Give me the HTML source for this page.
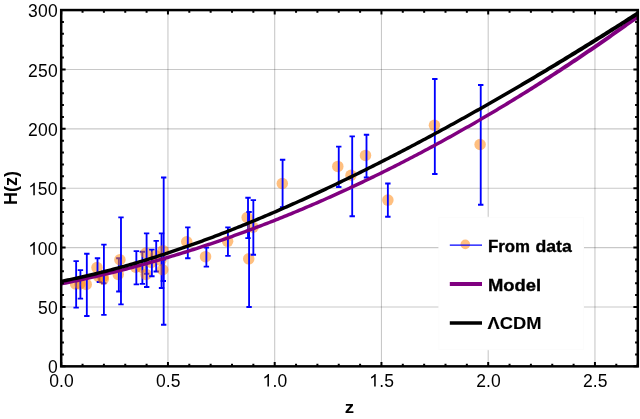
<!DOCTYPE html><html><head><meta charset="utf-8"><style>html,body{margin:0;padding:0;background:#fff}svg{display:block;will-change:transform}text{font-family:"Liberation Sans",sans-serif;fill:#000}</style></head><body>
<svg width="640" height="419" viewBox="0 0 640 419">
<rect width="640" height="419" fill="#fff"/>
<path d="M167.95,10.07 V366.35 M274.70,10.07 V366.35 M381.45,10.07 V366.35 M488.20,10.07 V366.35 M594.95,10.07 V366.35" stroke="#000" stroke-opacity="0.215" stroke-width="1.1" fill="none"/>
<path d="M61.20,306.97 H637.80 M61.20,247.59 H637.80 M61.20,188.21 H637.80 M61.20,128.83 H637.80 M61.20,69.45 H637.80" stroke="#000" stroke-opacity="0.215" stroke-width="1.1" fill="none"/>
<defs><clipPath id="c"><rect x="61.20" y="10.07" width="576.60" height="356.28"/></clipPath></defs>
<g clip-path="url(#c)">
<circle cx="75.55" cy="283.91" r="5.75" fill="#ff8000" fill-opacity="0.5"/>
<path d="M76.15,261.13 V307.68 M73.45,261.13 h5.4 M73.45,307.68 h5.4" stroke="#0000ff" stroke-width="1.85" fill="none"/>
<circle cx="79.82" cy="283.91" r="5.75" fill="#ff8000" fill-opacity="0.5"/>
<path d="M80.42,270.15 V298.66 M77.72,270.15 h5.4 M77.72,298.66 h5.4" stroke="#0000ff" stroke-width="1.85" fill="none"/>
<circle cx="86.22" cy="284.38" r="5.75" fill="#ff8000" fill-opacity="0.5"/>
<path d="M86.82,253.77 V316.00 M84.12,253.77 h5.4 M84.12,316.00 h5.4" stroke="#0000ff" stroke-width="1.85" fill="none"/>
<circle cx="97.00" cy="267.58" r="5.75" fill="#ff8000" fill-opacity="0.5"/>
<path d="M97.50,258.28 V277.28 M94.80,258.28 h5.4 M94.80,277.28 h5.4" stroke="#0000ff" stroke-width="1.85" fill="none"/>
<circle cx="98.82" cy="276.78" r="5.75" fill="#ff8000" fill-opacity="0.5"/>
<path d="M99.42,272.53 V282.03 M96.72,272.53 h5.4 M96.72,282.03 h5.4" stroke="#0000ff" stroke-width="1.85" fill="none"/>
<circle cx="103.09" cy="276.78" r="5.75" fill="#ff8000" fill-opacity="0.5"/>
<path d="M103.69,271.34 V283.22 M100.99,271.34 h5.4 M100.99,283.22 h5.4" stroke="#0000ff" stroke-width="1.85" fill="none"/>
<circle cx="103.30" cy="279.27" r="5.75" fill="#ff8000" fill-opacity="0.5"/>
<path d="M103.90,244.62 V314.93 M101.20,244.62 h5.4 M101.20,314.93 h5.4" stroke="#0000ff" stroke-width="1.85" fill="none"/>
<circle cx="118.25" cy="274.40" r="5.75" fill="#ff8000" fill-opacity="0.5"/>
<path d="M118.84,258.28 V291.53 M116.14,258.28 h5.4 M116.14,291.53 h5.4" stroke="#0000ff" stroke-width="1.85" fill="none"/>
<circle cx="119.90" cy="259.70" r="5.75" fill="#ff8000" fill-opacity="0.5"/>
<path d="M120.98,217.42 V304.36 M118.28,217.42 h5.4 M118.28,304.36 h5.4" stroke="#0000ff" stroke-width="1.85" fill="none"/>
<circle cx="135.75" cy="267.28" r="5.75" fill="#ff8000" fill-opacity="0.5"/>
<path d="M136.35,251.15 V284.41 M133.65,251.15 h5.4 M133.65,284.41 h5.4" stroke="#0000ff" stroke-width="1.85" fill="none"/>
<circle cx="141.77" cy="267.28" r="5.75" fill="#ff8000" fill-opacity="0.5"/>
<path d="M142.37,251.75 V283.81 M139.67,251.75 h5.4 M139.67,283.81 h5.4" stroke="#0000ff" stroke-width="1.85" fill="none"/>
<circle cx="146.00" cy="253.03" r="5.75" fill="#ff8000" fill-opacity="0.5"/>
<path d="M146.60,233.34 V273.72 M143.90,233.34 h5.4 M143.90,273.72 h5.4" stroke="#0000ff" stroke-width="1.85" fill="none"/>
<circle cx="146.09" cy="274.40" r="5.75" fill="#ff8000" fill-opacity="0.5"/>
<path d="M146.69,262.79 V287.02 M143.99,262.79 h5.4 M143.99,287.02 h5.4" stroke="#0000ff" stroke-width="1.85" fill="none"/>
<circle cx="151.27" cy="262.41" r="5.75" fill="#ff8000" fill-opacity="0.5"/>
<path d="M151.87,249.61 V276.21 M149.17,249.61 h5.4 M149.17,276.21 h5.4" stroke="#0000ff" stroke-width="1.85" fill="none"/>
<circle cx="155.61" cy="255.64" r="5.75" fill="#ff8000" fill-opacity="0.5"/>
<path d="M156.21,240.82 V271.46 M153.51,240.82 h5.4 M153.51,271.46 h5.4" stroke="#0000ff" stroke-width="1.85" fill="none"/>
<circle cx="160.95" cy="260.15" r="5.75" fill="#ff8000" fill-opacity="0.5"/>
<path d="M161.55,233.34 V287.97 M158.85,233.34 h5.4 M158.85,287.97 h5.4" stroke="#0000ff" stroke-width="1.85" fill="none"/>
<circle cx="162.72" cy="269.77" r="5.75" fill="#ff8000" fill-opacity="0.5"/>
<path d="M163.32,259.58 V280.96 M160.62,259.58 h5.4 M160.62,280.96 h5.4" stroke="#0000ff" stroke-width="1.85" fill="none"/>
<circle cx="163.08" cy="250.65" r="5.75" fill="#ff8000" fill-opacity="0.5"/>
<path d="M163.68,177.52 V324.78 M160.98,177.52 h5.4 M160.98,324.78 h5.4" stroke="#0000ff" stroke-width="1.85" fill="none"/>
<circle cx="186.76" cy="241.74" r="5.75" fill="#ff8000" fill-opacity="0.5"/>
<path d="M187.81,227.40 V258.28 M185.11,227.40 h5.4 M185.11,258.28 h5.4" stroke="#0000ff" stroke-width="1.85" fill="none"/>
<circle cx="205.53" cy="256.69" r="5.75" fill="#ff8000" fill-opacity="0.5"/>
<path d="M206.38,247.59 V266.59 M203.68,247.59 h5.4 M203.68,266.59 h5.4" stroke="#0000ff" stroke-width="1.85" fill="none"/>
<circle cx="227.59" cy="241.35" r="5.75" fill="#ff8000" fill-opacity="0.5"/>
<path d="M227.94,227.40 V255.90 M225.24,227.40 h5.4 M225.24,255.90 h5.4" stroke="#0000ff" stroke-width="1.85" fill="none"/>
<circle cx="247.16" cy="217.50" r="5.75" fill="#ff8000" fill-opacity="0.5"/>
<path d="M248.01,197.71 V238.09 M245.31,197.71 h5.4 M245.31,238.09 h5.4" stroke="#0000ff" stroke-width="1.85" fill="none"/>
<circle cx="248.73" cy="258.87" r="5.75" fill="#ff8000" fill-opacity="0.5"/>
<path d="M249.08,211.96 V306.97 M246.38,211.96 h5.4 M246.38,306.97 h5.4" stroke="#0000ff" stroke-width="1.85" fill="none"/>
<circle cx="253.00" cy="227.30" r="5.75" fill="#ff8000" fill-opacity="0.5"/>
<path d="M253.35,200.09 V254.72 M250.65,200.09 h5.4 M250.65,254.72 h5.4" stroke="#0000ff" stroke-width="1.85" fill="none"/>
<circle cx="282.30" cy="183.46" r="5.75" fill="#ff8000" fill-opacity="0.5"/>
<path d="M282.60,159.71 V207.21 M279.90,159.71 h5.4 M279.90,207.21 h5.4" stroke="#0000ff" stroke-width="1.85" fill="none"/>
<circle cx="337.80" cy="166.43" r="5.75" fill="#ff8000" fill-opacity="0.5"/>
<path d="M338.75,146.64 V187.02 M336.05,146.64 h5.4 M336.05,187.02 h5.4" stroke="#0000ff" stroke-width="1.85" fill="none"/>
<circle cx="351.00" cy="175.28" r="5.75" fill="#ff8000" fill-opacity="0.5"/>
<path d="M352.20,136.43 V216.24 M349.50,136.43 h5.4 M349.50,216.24 h5.4" stroke="#0000ff" stroke-width="1.85" fill="none"/>
<circle cx="365.50" cy="155.39" r="5.75" fill="#ff8000" fill-opacity="0.5"/>
<path d="M366.50,134.77 V177.52 M363.81,134.77 h5.4 M363.81,177.52 h5.4" stroke="#0000ff" stroke-width="1.85" fill="none"/>
<circle cx="387.86" cy="200.09" r="5.75" fill="#ff8000" fill-opacity="0.5"/>
<path d="M387.86,183.46 V216.71 M385.16,183.46 h5.4 M385.16,216.71 h5.4" stroke="#0000ff" stroke-width="1.85" fill="none"/>
<circle cx="434.47" cy="125.35" r="5.75" fill="#ff8000" fill-opacity="0.5"/>
<path d="M434.82,78.95 V173.96 M432.12,78.95 h5.4 M432.12,173.96 h5.4" stroke="#0000ff" stroke-width="1.85" fill="none"/>
<circle cx="480.08" cy="144.46" r="5.75" fill="#ff8000" fill-opacity="0.5"/>
<path d="M480.73,85.01 V204.72 M478.03,85.01 h5.4 M478.03,204.72 h5.4" stroke="#0000ff" stroke-width="1.85" fill="none"/>
<path d="M57.26,286.35 L59.43,285.93 L61.60,285.50 L63.77,285.07 L65.94,284.63 L68.11,284.19 L70.28,283.75 L72.45,283.30 L74.62,282.84 L76.79,282.38 L78.96,281.92 L81.13,281.45 L83.30,280.98 L85.47,280.51 L87.64,280.03 L89.81,279.54 L91.98,279.05 L94.15,278.56 L96.32,278.06 L98.49,277.56 L100.66,277.05 L102.83,276.54 L105.00,276.02 L107.17,275.50 L109.34,274.98 L111.51,274.45 L113.68,273.92 L115.85,273.38 L118.02,272.84 L120.18,272.29 L122.35,271.74 L124.52,271.19 L126.69,270.63 L128.86,270.06 L131.03,269.50 L133.20,268.92 L135.37,268.35 L137.54,267.77 L139.71,267.18 L141.88,266.59 L144.05,266.00 L146.22,265.40 L148.39,264.79 L150.56,264.19 L152.73,263.58 L154.90,262.96 L157.07,262.34 L159.24,261.71 L161.41,261.09 L163.58,260.45 L165.75,259.81 L167.92,259.17 L170.09,258.53 L172.26,257.87 L174.43,257.22 L176.60,256.56 L178.77,255.90 L180.94,255.23 L183.11,254.55 L185.28,253.88 L187.45,253.20 L189.62,252.51 L191.79,251.82 L193.95,251.13 L196.12,250.43 L198.29,249.72 L200.46,249.02 L202.63,248.30 L204.80,247.59 L206.97,246.87 L209.14,246.14 L211.31,245.41 L213.48,244.68 L215.65,243.94 L217.82,243.20 L219.99,242.45 L222.16,241.70 L224.33,240.95 L226.50,240.19 L228.67,239.42 L230.84,238.66 L233.01,237.88 L235.18,237.11 L237.35,236.33 L239.52,235.54 L241.69,234.75 L243.85,233.96 L246.02,233.16 L248.19,232.36 L250.36,231.55 L252.53,230.74 L254.70,229.92 L256.87,229.10 L259.04,228.28 L261.21,227.45 L263.38,226.61 L265.55,225.78 L267.72,224.94 L269.89,224.09 L272.06,223.24 L274.23,222.38 L276.40,221.53 L278.57,220.66 L280.73,219.79 L282.90,218.92 L285.07,218.05 L287.24,217.17 L289.41,216.28 L291.58,215.39 L293.75,214.50 L295.92,213.60 L298.09,212.70 L300.26,211.79 L302.43,210.88 L304.60,209.97 L306.77,209.05 L308.94,208.12 L311.11,207.20 L313.27,206.26 L315.44,205.33 L317.61,204.39 L319.78,203.44 L321.95,202.49 L324.12,201.54 L326.29,200.58 L328.46,199.62 L330.63,198.65 L332.80,197.68 L334.97,196.70 L337.14,195.72 L339.31,194.74 L341.47,193.75 L343.64,192.76 L345.81,191.76 L347.98,190.76 L350.15,189.76 L352.32,188.75 L354.49,187.73 L356.66,186.71 L358.83,185.69 L361.00,184.67 L363.17,183.63 L365.34,182.60 L367.50,181.56 L369.67,180.52 L371.84,179.47 L374.01,178.41 L376.18,177.36 L378.35,176.30 L380.52,175.23 L382.69,174.16 L384.86,173.09 L387.03,172.01 L389.20,170.93 L391.36,169.84 L393.53,168.75 L395.70,167.65 L397.87,166.56 L400.04,165.45 L402.21,164.34 L404.38,163.23 L406.55,162.11 L408.72,160.99 L410.89,159.87 L413.06,158.74 L415.22,157.61 L417.39,156.47 L419.56,155.32 L421.73,154.18 L423.90,153.03 L426.07,151.87 L428.24,150.71 L430.41,149.55 L432.58,148.38 L434.74,147.21 L436.91,146.03 L439.08,144.85 L441.25,143.67 L443.42,142.48 L445.59,141.29 L447.76,140.09 L449.93,138.89 L452.10,137.68 L454.26,136.47 L456.43,135.25 L458.60,134.04 L460.77,132.81 L462.94,131.59 L465.11,130.35 L467.28,129.12 L469.45,127.88 L471.62,126.63 L473.78,125.38 L475.95,124.13 L478.12,122.87 L480.29,121.61 L482.46,120.35 L484.63,119.08 L486.80,117.80 L488.97,116.52 L491.14,115.25 L493.31,113.97 L495.48,112.68 L497.65,111.39 L499.83,110.10 L502.00,108.80 L504.17,107.50 L506.34,106.19 L508.51,104.88 L510.69,103.56 L512.86,102.24 L515.03,100.92 L517.20,99.59 L519.38,98.26 L521.55,96.92 L523.72,95.58 L525.89,94.24 L528.06,92.89 L530.24,91.53 L532.41,90.18 L534.58,88.81 L536.75,87.45 L538.92,86.08 L541.10,84.70 L543.27,83.32 L545.44,81.94 L547.61,80.55 L549.79,79.16 L551.96,77.76 L554.13,76.36 L556.30,74.96 L558.48,73.55 L560.65,72.14 L562.82,70.72 L564.99,69.30 L567.16,67.88 L569.34,66.45 L571.51,65.01 L573.68,63.57 L575.85,62.13 L578.02,60.68 L580.19,59.22 L582.36,57.76 L584.53,56.30 L586.70,54.83 L588.86,53.35 L591.03,51.88 L593.20,50.40 L595.37,48.91 L597.54,47.42 L599.71,45.93 L601.88,44.43 L604.05,42.93 L606.22,41.42 L608.38,39.91 L610.55,38.39 L612.72,36.87 L614.89,35.35 L617.06,33.82 L619.23,32.29 L621.40,30.76 L623.56,29.22 L625.73,27.67 L627.90,26.12 L630.07,24.57 L632.24,23.01 L634.41,21.45 L636.58,19.89 L638.75,18.32 L640.91,16.74 L643.08,15.17 L640.76,11.97 L638.59,13.55 L636.43,15.12 L634.26,16.69 L632.10,18.25 L629.93,19.81 L627.77,21.36 L625.60,22.91 L623.44,24.46 L621.28,26.00 L619.11,27.53 L616.95,29.07 L614.78,30.60 L612.62,32.12 L610.45,33.64 L608.29,35.16 L606.12,36.67 L603.96,38.18 L601.79,39.68 L599.63,41.18 L597.47,42.68 L595.30,44.17 L593.14,45.65 L590.97,47.14 L588.81,48.61 L586.64,50.09 L584.48,51.56 L582.31,53.02 L580.15,54.49 L577.99,55.94 L575.82,57.40 L573.66,58.84 L571.49,60.29 L569.33,61.74 L567.17,63.18 L565.01,64.62 L562.85,66.05 L560.69,67.48 L558.53,68.90 L556.37,70.32 L554.21,71.74 L552.05,73.15 L549.88,74.56 L547.72,75.96 L545.56,77.36 L543.40,78.76 L541.24,80.15 L539.08,81.54 L536.92,82.92 L534.76,84.30 L532.60,85.67 L530.44,87.04 L528.27,88.41 L526.11,89.77 L523.95,91.13 L521.79,92.48 L519.63,93.83 L517.47,95.17 L515.31,96.51 L513.15,97.85 L510.99,99.18 L508.82,100.51 L506.66,101.83 L504.50,103.15 L502.34,104.47 L500.18,105.78 L498.02,107.08 L495.86,108.39 L493.70,109.69 L491.53,110.98 L489.37,112.27 L487.21,113.55 L485.05,114.83 L482.88,116.10 L480.72,117.37 L478.55,118.63 L476.39,119.89 L474.23,121.15 L472.06,122.40 L469.90,123.64 L467.73,124.88 L465.57,126.12 L463.40,127.35 L461.24,128.58 L459.07,129.81 L456.91,131.03 L454.75,132.25 L452.58,133.46 L450.42,134.67 L448.25,135.87 L446.09,137.07 L443.92,138.26 L441.76,139.45 L439.60,140.64 L437.43,141.82 L435.27,143.00 L433.10,144.18 L430.94,145.35 L428.77,146.51 L426.61,147.67 L424.45,148.83 L422.28,149.98 L420.12,151.13 L417.95,152.27 L415.79,153.41 L413.62,154.55 L411.46,155.68 L409.30,156.81 L407.13,157.93 L404.97,159.05 L402.80,160.16 L400.64,161.27 L398.47,162.38 L396.31,163.48 L394.15,164.58 L391.98,165.67 L389.82,166.76 L387.65,167.84 L385.49,168.92 L383.32,170.00 L381.16,171.07 L379.00,172.14 L376.83,173.20 L374.67,174.26 L372.50,175.31 L370.34,176.36 L368.18,177.41 L366.01,178.45 L363.85,179.49 L361.68,180.52 L359.52,181.55 L357.35,182.57 L355.19,183.59 L353.03,184.61 L350.86,185.62 L348.70,186.63 L346.53,187.63 L344.37,188.63 L342.21,189.62 L340.04,190.61 L337.88,191.60 L335.71,192.58 L333.55,193.56 L331.39,194.53 L329.22,195.50 L327.06,196.46 L324.89,197.42 L322.73,198.38 L320.57,199.33 L318.40,200.28 L316.24,201.22 L314.07,202.16 L311.91,203.09 L309.75,204.02 L307.58,204.95 L305.42,205.87 L303.25,206.79 L301.09,207.70 L298.93,208.61 L296.76,209.51 L294.60,210.41 L292.43,211.31 L290.27,212.20 L288.11,213.09 L285.94,213.97 L283.78,214.85 L281.61,215.72 L279.45,216.59 L277.29,217.46 L275.12,218.32 L272.96,219.18 L270.80,220.03 L268.63,220.88 L266.47,221.72 L264.30,222.56 L262.14,223.40 L259.98,224.23 L257.81,225.05 L255.65,225.87 L253.48,226.69 L251.32,227.51 L249.16,228.32 L246.99,229.12 L244.83,229.92 L242.67,230.72 L240.50,231.51 L238.34,232.30 L236.17,233.08 L234.01,233.86 L231.85,234.64 L229.68,235.41 L227.52,236.17 L225.36,236.93 L223.19,237.69 L221.03,238.44 L218.86,239.19 L216.70,239.94 L214.54,240.68 L212.37,241.41 L210.21,242.15 L208.05,242.87 L205.88,243.60 L203.72,244.31 L201.55,245.03 L199.39,245.74 L197.23,246.44 L195.06,247.14 L192.90,247.84 L190.74,248.53 L188.57,249.22 L186.41,249.91 L184.25,250.58 L182.08,251.26 L179.92,251.93 L177.75,252.60 L175.59,253.26 L173.43,253.92 L171.26,254.57 L169.10,255.22 L166.94,255.86 L164.77,256.50 L162.61,257.14 L160.45,257.77 L158.28,258.40 L156.12,259.02 L153.96,259.64 L151.79,260.26 L149.63,260.87 L147.47,261.47 L145.30,262.07 L143.14,262.67 L140.97,263.26 L138.81,263.85 L136.65,264.43 L134.48,265.01 L132.32,265.59 L130.16,266.16 L127.99,266.73 L125.83,267.29 L123.67,267.85 L121.50,268.40 L119.34,268.95 L117.18,269.49 L115.01,270.03 L112.85,270.57 L110.69,271.10 L108.52,271.63 L106.36,272.15 L104.20,272.67 L102.03,273.18 L99.87,273.69 L97.71,274.20 L95.54,274.70 L93.38,275.19 L91.22,275.69 L89.05,276.17 L86.89,276.66 L84.72,277.14 L82.56,277.61 L80.40,278.08 L78.23,278.55 L76.07,279.01 L73.91,279.47 L71.74,279.92 L69.58,280.37 L67.42,280.81 L65.25,281.25 L63.09,281.69 L60.93,282.12 L58.76,282.54 L56.60,282.97Z" fill="#800080"/>
<path d="M57.26,283.86 L59.42,283.45 L61.60,283.02 L63.77,282.59 L65.94,282.16 L68.11,281.72 L70.28,281.27 L72.45,280.81 L74.62,280.35 L76.80,279.88 L78.97,279.40 L81.14,278.92 L83.31,278.44 L85.48,277.94 L87.65,277.44 L89.82,276.93 L91.99,276.42 L94.17,275.90 L96.34,275.38 L98.51,274.85 L100.68,274.31 L102.85,273.76 L105.02,273.21 L107.19,272.66 L109.36,272.10 L111.53,271.53 L113.71,270.95 L115.88,270.37 L118.05,269.79 L120.22,269.20 L122.39,268.60 L124.56,268.00 L126.73,267.39 L128.90,266.77 L131.07,266.15 L133.24,265.52 L135.41,264.89 L137.58,264.25 L139.75,263.61 L141.92,262.96 L144.10,262.31 L146.27,261.65 L148.44,260.98 L150.61,260.31 L152.78,259.63 L154.95,258.95 L157.12,258.26 L159.29,257.57 L161.46,256.87 L163.63,256.17 L165.80,255.46 L167.97,254.75 L170.14,254.03 L172.31,253.31 L174.48,252.58 L176.65,251.84 L178.82,251.11 L180.99,250.36 L183.16,249.61 L185.33,248.86 L187.50,248.10 L189.67,247.34 L191.84,246.57 L194.01,245.80 L196.18,245.02 L198.35,244.24 L200.52,243.45 L202.69,242.66 L204.86,241.86 L207.03,241.06 L209.20,240.25 L211.37,239.44 L213.54,238.63 L215.70,237.81 L217.87,236.98 L220.04,236.16 L222.21,235.32 L224.38,234.48 L226.55,233.64 L228.72,232.80 L230.89,231.95 L233.06,231.09 L235.23,230.23 L237.40,229.37 L239.57,228.50 L241.74,227.63 L243.91,226.76 L246.08,225.88 L248.25,224.99 L250.41,224.11 L252.58,223.21 L254.75,222.32 L256.92,221.42 L259.09,220.51 L261.26,219.61 L263.43,218.69 L265.60,217.78 L267.77,216.86 L269.94,215.93 L272.11,215.01 L274.27,214.08 L276.44,213.14 L278.61,212.20 L280.78,211.26 L282.95,210.31 L285.12,209.36 L287.29,208.41 L289.46,207.45 L291.63,206.49 L293.79,205.53 L295.96,204.56 L298.13,203.59 L300.30,202.61 L302.47,201.63 L304.64,200.65 L306.81,199.66 L308.98,198.67 L311.14,197.68 L313.31,196.68 L315.48,195.68 L317.65,194.68 L319.82,193.67 L321.99,192.66 L324.16,191.65 L326.33,190.63 L328.49,189.61 L330.66,188.59 L332.83,187.56 L335.00,186.53 L337.17,185.49 L339.34,184.46 L341.51,183.42 L343.67,182.37 L345.84,181.33 L348.01,180.28 L350.18,179.22 L352.35,178.17 L354.52,177.11 L356.68,176.04 L358.85,174.98 L361.02,173.91 L363.19,172.84 L365.36,171.76 L367.53,170.68 L369.70,169.60 L371.86,168.52 L374.03,167.43 L376.20,166.34 L378.37,165.25 L380.54,164.15 L382.71,163.05 L384.87,161.95 L387.04,160.84 L389.21,159.73 L391.38,158.62 L393.55,157.51 L395.72,156.39 L397.88,155.27 L400.05,154.15 L402.22,153.02 L404.39,151.89 L406.56,150.76 L408.72,149.63 L410.89,148.49 L413.06,147.35 L415.23,146.21 L417.40,145.06 L419.57,143.91 L421.73,142.76 L423.90,141.61 L426.07,140.45 L428.24,139.29 L430.41,138.13 L432.57,136.96 L434.74,135.79 L436.91,134.62 L439.08,133.45 L441.25,132.27 L443.41,131.10 L445.58,129.91 L447.75,128.73 L449.92,127.54 L452.09,126.35 L454.26,125.16 L456.42,123.97 L458.59,122.77 L460.76,121.57 L462.93,120.37 L465.10,119.16 L467.26,117.95 L469.43,116.74 L471.60,115.53 L473.77,114.31 L475.94,113.10 L478.10,111.88 L480.27,110.65 L482.44,109.43 L484.61,108.20 L486.77,106.97 L488.94,105.73 L491.11,104.50 L493.28,103.27 L495.46,102.04 L497.63,100.80 L499.80,99.56 L501.97,98.31 L504.14,97.07 L506.31,95.82 L508.48,94.57 L510.65,93.32 L512.82,92.06 L515.00,90.81 L517.17,89.55 L519.34,88.28 L521.51,87.02 L523.68,85.75 L525.85,84.48 L528.02,83.21 L530.19,81.94 L532.37,80.66 L534.54,79.38 L536.71,78.10 L538.88,76.81 L541.05,75.53 L543.22,74.24 L545.39,72.95 L547.56,71.66 L549.73,70.36 L551.91,69.06 L554.08,67.76 L556.25,66.46 L558.42,65.15 L560.59,63.85 L562.76,62.54 L564.93,61.23 L567.10,59.91 L569.28,58.60 L571.45,57.28 L573.62,55.96 L575.79,54.63 L577.95,53.30 L580.12,51.97 L582.29,50.63 L584.46,49.29 L586.63,47.95 L588.79,46.61 L590.96,45.27 L593.13,43.92 L595.30,42.57 L597.47,41.22 L599.63,39.87 L601.80,38.52 L603.97,37.16 L606.14,35.80 L608.31,34.44 L610.47,33.07 L612.64,31.71 L614.81,30.34 L616.98,28.97 L619.14,27.60 L621.31,26.22 L623.48,24.84 L625.65,23.46 L627.82,22.08 L629.98,20.70 L632.15,19.31 L634.32,17.93 L636.49,16.54 L638.65,15.15 L640.82,13.75 L642.99,12.36 L640.85,9.04 L638.68,10.43 L636.52,11.82 L634.35,13.21 L632.19,14.60 L630.02,15.99 L627.86,17.37 L625.69,18.75 L623.53,20.13 L621.36,21.51 L619.20,22.89 L617.03,24.26 L614.86,25.63 L612.70,27.00 L610.53,28.37 L608.37,29.73 L606.20,31.09 L604.04,32.45 L601.87,33.81 L599.71,35.17 L597.54,36.52 L595.38,37.87 L593.21,39.22 L591.04,40.57 L588.88,41.91 L586.71,43.26 L584.55,44.60 L582.38,45.93 L580.22,47.27 L578.05,48.60 L575.89,49.93 L573.72,51.26 L571.56,52.59 L569.40,53.92 L567.23,55.25 L565.07,56.58 L562.91,57.90 L560.75,59.22 L558.59,60.54 L556.42,61.86 L554.26,63.17 L552.10,64.48 L549.94,65.79 L547.78,67.10 L545.61,68.40 L543.45,69.71 L541.29,71.01 L539.13,72.30 L536.96,73.60 L534.80,74.89 L532.64,76.18 L530.48,77.47 L528.32,78.76 L526.15,80.04 L523.99,81.32 L521.83,82.60 L519.67,83.88 L517.51,85.15 L515.34,86.43 L513.18,87.69 L511.02,88.96 L508.86,90.23 L506.70,91.49 L504.53,92.75 L502.37,94.01 L500.21,95.26 L498.05,96.51 L495.88,97.76 L493.72,99.01 L491.56,100.25 L489.40,101.50 L487.24,102.74 L485.07,103.97 L482.91,105.20 L480.74,106.42 L478.57,107.65 L476.41,108.87 L474.24,110.09 L472.08,111.31 L469.91,112.52 L467.75,113.73 L465.58,114.94 L463.42,116.15 L461.25,117.35 L459.09,118.55 L456.92,119.75 L454.76,120.95 L452.59,122.14 L450.43,123.33 L448.26,124.52 L446.10,125.70 L443.93,126.89 L441.77,128.06 L439.60,129.24 L437.44,130.42 L435.27,131.59 L433.10,132.76 L430.94,133.92 L428.77,135.09 L426.61,136.25 L424.44,137.41 L422.28,138.56 L420.11,139.71 L417.95,140.86 L415.78,142.01 L413.62,143.16 L411.45,144.30 L409.29,145.44 L407.12,146.57 L404.96,147.70 L402.79,148.83 L400.63,149.96 L398.46,151.09 L396.30,152.21 L394.13,153.33 L391.97,154.44 L389.80,155.55 L387.64,156.66 L385.47,157.77 L383.31,158.87 L381.14,159.97 L378.98,161.07 L376.81,162.17 L374.65,163.26 L372.48,164.35 L370.32,165.43 L368.15,166.52 L365.99,167.60 L363.82,168.67 L361.66,169.75 L359.49,170.82 L357.33,171.88 L355.16,172.95 L353.00,174.01 L350.84,175.07 L348.67,176.12 L346.51,177.17 L344.34,178.22 L342.18,179.27 L340.01,180.31 L337.85,181.35 L335.68,182.38 L333.52,183.41 L331.35,184.44 L329.19,185.47 L327.02,186.49 L324.86,187.51 L322.69,188.52 L320.53,189.53 L318.36,190.54 L316.20,191.55 L314.04,192.55 L311.87,193.55 L309.71,194.54 L307.54,195.53 L305.38,196.52 L303.21,197.51 L301.05,198.49 L298.88,199.46 L296.72,200.44 L294.55,201.41 L292.39,202.37 L290.23,203.34 L288.06,204.30 L285.90,205.25 L283.73,206.20 L281.57,207.15 L279.40,208.10 L277.24,209.04 L275.08,209.97 L272.91,210.91 L270.75,211.84 L268.58,212.76 L266.42,213.68 L264.25,214.60 L262.09,215.51 L259.93,216.42 L257.76,217.33 L255.60,218.23 L253.43,219.13 L251.27,220.02 L249.11,220.91 L246.94,221.80 L244.78,222.68 L242.61,223.56 L240.45,224.43 L238.29,225.30 L236.12,226.17 L233.96,227.03 L231.79,227.88 L229.63,228.74 L227.47,229.58 L225.30,230.43 L223.14,231.27 L220.97,232.10 L218.81,232.93 L216.65,233.76 L214.48,234.58 L212.32,235.40 L210.16,236.21 L207.99,237.02 L205.83,237.82 L203.66,238.62 L201.50,239.42 L199.34,240.21 L197.17,240.99 L195.01,241.77 L192.85,242.55 L190.68,243.32 L188.52,244.08 L186.36,244.85 L184.19,245.60 L182.03,246.35 L179.87,247.10 L177.70,247.84 L175.54,248.58 L173.38,249.31 L171.21,250.04 L169.05,250.76 L166.89,251.47 L164.72,252.18 L162.56,252.89 L160.40,253.59 L158.24,254.29 L156.07,254.98 L153.91,255.66 L151.75,256.34 L149.58,257.02 L147.42,257.68 L145.26,258.35 L143.10,259.00 L140.93,259.66 L138.77,260.30 L136.61,260.95 L134.44,261.58 L132.28,262.21 L130.12,262.83 L127.96,263.45 L125.79,264.07 L123.63,264.67 L121.47,265.27 L119.31,265.87 L117.14,266.46 L114.98,267.04 L112.82,267.62 L110.66,268.19 L108.49,268.76 L106.33,269.32 L104.17,269.87 L102.01,270.42 L99.85,270.96 L97.68,271.50 L95.52,272.03 L93.36,272.55 L91.20,273.07 L89.04,273.58 L86.87,274.08 L84.71,274.58 L82.55,275.07 L80.39,275.56 L78.23,276.04 L76.06,276.51 L73.90,276.97 L71.74,277.43 L69.58,277.89 L67.42,278.34 L65.25,278.78 L63.09,279.21 L60.93,279.64 L58.77,280.06 L56.60,280.48Z" fill="#000"/>
</g>
<rect x="438.9" y="217.3" width="144.6" height="132.4" fill="#fff" stroke="#fcfcfc" stroke-width="1"/>
<circle cx="465.3" cy="244.4" r="4.8" fill="#ff8000" fill-opacity="0.5"/>
<path d="M449.8,245.1 H482" stroke="#0000ff" stroke-width="1.3" fill="none"/>
<path d="M449.8,284.0 H482" stroke="#800080" stroke-width="4" fill="none"/>
<path d="M449.8,323.0 H482" stroke="#000" stroke-width="3.3" fill="none"/>
<text x="487.90" y="252.0" font-size="17" font-weight="bold" textLength="42.1" lengthAdjust="spacingAndGlyphs" stroke="#000" stroke-width="0.35">From</text>
<text x="535.45" y="252.0" font-size="17" font-weight="bold" textLength="36.3" lengthAdjust="spacingAndGlyphs" stroke="#000" stroke-width="0.35">data</text>
<text x="487.90" y="290.8" font-size="17" font-weight="bold" textLength="53.2" lengthAdjust="spacingAndGlyphs" stroke="#000" stroke-width="0.35">Model</text>
<text x="487.50" y="328.9" font-size="17" font-weight="bold" textLength="54.0" lengthAdjust="spacingAndGlyphs" stroke="#000" stroke-width="0.12">ΛCDM</text>
<path d="M61.20,366.35 v-4.40 M61.20,10.07 v4.40 M82.55,366.35 v-2.70 M82.55,10.07 v2.70 M103.90,366.35 v-2.70 M103.90,10.07 v2.70 M125.25,366.35 v-2.70 M125.25,10.07 v2.70 M146.60,366.35 v-2.70 M146.60,10.07 v2.70 M167.95,366.35 v-4.40 M167.95,10.07 v4.40 M189.30,366.35 v-2.70 M189.30,10.07 v2.70 M210.65,366.35 v-2.70 M210.65,10.07 v2.70 M232.00,366.35 v-2.70 M232.00,10.07 v2.70 M253.35,366.35 v-2.70 M253.35,10.07 v2.70 M274.70,366.35 v-4.40 M274.70,10.07 v4.40 M296.05,366.35 v-2.70 M296.05,10.07 v2.70 M317.40,366.35 v-2.70 M317.40,10.07 v2.70 M338.75,366.35 v-2.70 M338.75,10.07 v2.70 M360.10,366.35 v-2.70 M360.10,10.07 v2.70 M381.45,366.35 v-4.40 M381.45,10.07 v4.40 M402.80,366.35 v-2.70 M402.80,10.07 v2.70 M424.15,366.35 v-2.70 M424.15,10.07 v2.70 M445.50,366.35 v-2.70 M445.50,10.07 v2.70 M466.85,366.35 v-2.70 M466.85,10.07 v2.70 M488.20,366.35 v-4.40 M488.20,10.07 v4.40 M509.55,366.35 v-2.70 M509.55,10.07 v2.70 M530.90,366.35 v-2.70 M530.90,10.07 v2.70 M552.25,366.35 v-2.70 M552.25,10.07 v2.70 M573.60,366.35 v-2.70 M573.60,10.07 v2.70 M594.95,366.35 v-4.40 M594.95,10.07 v4.40 M616.30,366.35 v-2.70 M616.30,10.07 v2.70 M637.65,366.35 v-2.70 M637.65,10.07 v2.70 M61.20,366.35 h4.40 M637.80,366.35 h-4.40 M61.20,354.47 h2.70 M637.80,354.47 h-2.70 M61.20,342.60 h2.70 M637.80,342.60 h-2.70 M61.20,330.72 h2.70 M637.80,330.72 h-2.70 M61.20,318.85 h2.70 M637.80,318.85 h-2.70 M61.20,306.97 h4.40 M637.80,306.97 h-4.40 M61.20,295.09 h2.70 M637.80,295.09 h-2.70 M61.20,283.22 h2.70 M637.80,283.22 h-2.70 M61.20,271.34 h2.70 M637.80,271.34 h-2.70 M61.20,259.47 h2.70 M637.80,259.47 h-2.70 M61.20,247.59 h4.40 M637.80,247.59 h-4.40 M61.20,235.71 h2.70 M637.80,235.71 h-2.70 M61.20,223.84 h2.70 M637.80,223.84 h-2.70 M61.20,211.96 h2.70 M637.80,211.96 h-2.70 M61.20,200.09 h2.70 M637.80,200.09 h-2.70 M61.20,188.21 h4.40 M637.80,188.21 h-4.40 M61.20,176.33 h2.70 M637.80,176.33 h-2.70 M61.20,164.46 h2.70 M637.80,164.46 h-2.70 M61.20,152.58 h2.70 M637.80,152.58 h-2.70 M61.20,140.71 h2.70 M637.80,140.71 h-2.70 M61.20,128.83 h4.40 M637.80,128.83 h-4.40 M61.20,116.95 h2.70 M637.80,116.95 h-2.70 M61.20,105.08 h2.70 M637.80,105.08 h-2.70 M61.20,93.20 h2.70 M637.80,93.20 h-2.70 M61.20,81.33 h2.70 M637.80,81.33 h-2.70 M61.20,69.45 h4.40 M637.80,69.45 h-4.40 M61.20,57.57 h2.70 M637.80,57.57 h-2.70 M61.20,45.70 h2.70 M637.80,45.70 h-2.70 M61.20,33.82 h2.70 M637.80,33.82 h-2.70 M61.20,21.95 h2.70 M637.80,21.95 h-2.70 M61.20,10.07 h4.40 M637.80,10.07 h-4.40" stroke="#000" stroke-width="2" fill="none"/>
<rect x="61.20" y="10.07" width="576.60" height="356.28" fill="none" stroke="#000" stroke-width="2.5"/>
<text x="61.50" y="386.50" font-size="17.5" text-anchor="middle">0.0</text>
<text x="168.25" y="386.50" font-size="17.5" text-anchor="middle">0.5</text>
<path d="M763,0 H583 V1147 Q518,1085 412.5,1023 Q307,961 223,930 V1104 Q374,1175 487,1276 Q600,1377 647,1472 H763 Z" transform="translate(262.44,386.50) scale(0.008545,-0.008545)" fill="#000"/>
<text x="272.57" y="386.50" font-size="17.5">.0</text>
<path d="M763,0 H583 V1147 Q518,1085 412.5,1023 Q307,961 223,930 V1104 Q374,1175 487,1276 Q600,1377 647,1472 H763 Z" transform="translate(369.19,386.50) scale(0.008545,-0.008545)" fill="#000"/>
<text x="379.32" y="386.50" font-size="17.5">.5</text>
<text x="488.50" y="386.50" font-size="17.5" text-anchor="middle">2.0</text>
<text x="595.25" y="386.50" font-size="17.5" text-anchor="middle">2.5</text>
<text x="58.0" y="373.45" font-size="17.5" text-anchor="end" letter-spacing="0.3">0</text>
<text x="58.0" y="314.07" font-size="17.5" text-anchor="end" letter-spacing="0.3">50</text>
<path d="M763,0 H583 V1147 Q518,1085 412.5,1023 Q307,961 223,930 V1104 Q374,1175 487,1276 Q600,1377 647,1472 H763 Z" transform="translate(28.30,254.69) scale(0.008545,-0.008545)" fill="#000"/>
<text x="37.63" y="254.69" font-size="17.5" letter-spacing="0.3">00</text>
<path d="M763,0 H583 V1147 Q518,1085 412.5,1023 Q307,961 223,930 V1104 Q374,1175 487,1276 Q600,1377 647,1472 H763 Z" transform="translate(28.30,195.31) scale(0.008545,-0.008545)" fill="#000"/>
<text x="37.63" y="195.31" font-size="17.5" letter-spacing="0.3">50</text>
<text x="58.0" y="135.93" font-size="17.5" text-anchor="end" letter-spacing="0.3">200</text>
<text x="58.0" y="76.55" font-size="17.5" text-anchor="end" letter-spacing="0.3">250</text>
<text x="58.0" y="17.17" font-size="17.5" text-anchor="end" letter-spacing="0.3">300</text>
<text transform="translate(349.4,412.9) scale(1.1,1)" font-size="17" font-weight="bold" text-anchor="middle">z</text>
<text transform="translate(16.9,188) rotate(-90)" font-size="18" font-weight="bold" text-anchor="middle">H(z)</text>
</svg></body></html>
